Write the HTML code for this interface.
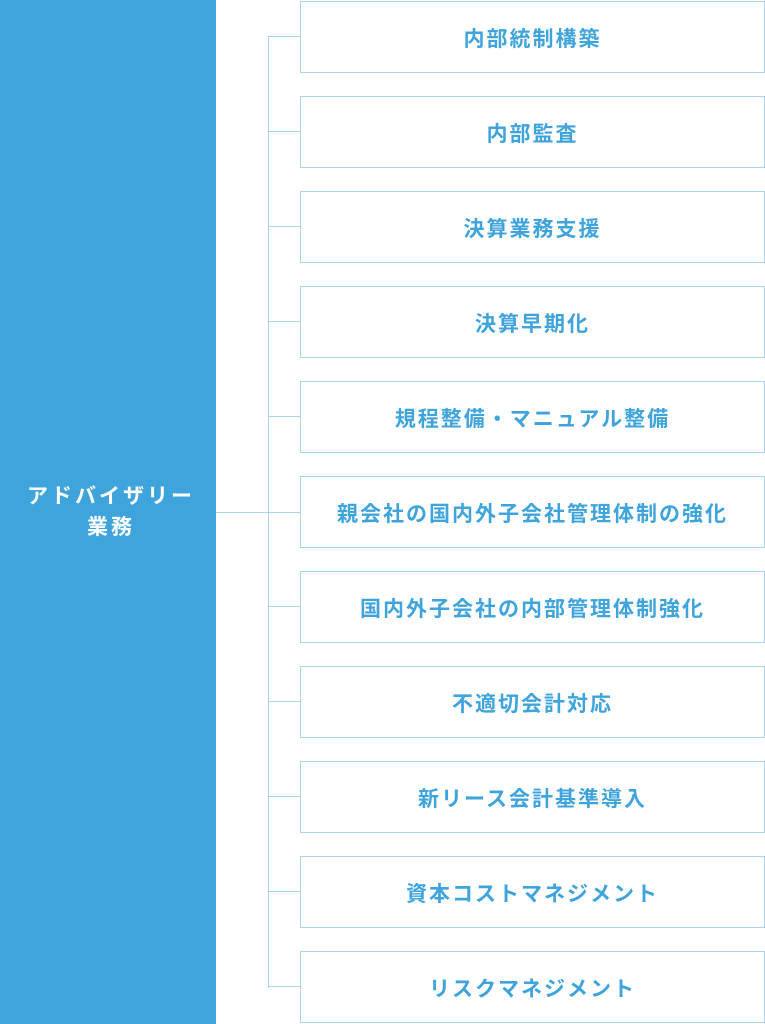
<!DOCTYPE html>
<html><head><meta charset="utf-8"><style>
body{margin:0;width:765px;height:1024px;position:relative;background:#fff;overflow:hidden;font-family:"Liberation Sans","Noto Sans CJK JP",sans-serif;}
.l{position:absolute;left:0;top:0;width:216px;height:1024px;background:#3fa3dc;}
.lt{position:absolute;left:3px;width:216px;top:481px;text-align:center;color:#fff;font-weight:bold;font-size:21px;line-height:31px;letter-spacing:3px;}
.b{position:absolute;left:300px;width:463px;height:70px;border:1px solid #a9d5f0;display:flex;align-items:center;justify-content:center;color:#3fa3dc;font-weight:bold;font-size:21px;letter-spacing:2px;padding-top:2px;box-sizing:content-box;}
.h{position:absolute;height:1px;background:#a9d5f0;}
.v{position:absolute;width:1px;background:#a9d5f0;}
</style></head><body>
<div class="l"></div>
<div class="lt">アドバイザリー<br>業務</div>
<div class="v" style="left:268px;top:36px;height:952px"></div>
<div class="h" style="left:216px;top:512px;width:84px"></div>
<div class="h" style="left:268px;top:36px;width:32px"></div>
<div class="h" style="left:268px;top:131px;width:32px"></div>
<div class="h" style="left:268px;top:226px;width:32px"></div>
<div class="h" style="left:268px;top:321px;width:32px"></div>
<div class="h" style="left:268px;top:416px;width:32px"></div>
<div class="h" style="left:268px;top:606px;width:32px"></div>
<div class="h" style="left:268px;top:701px;width:32px"></div>
<div class="h" style="left:268px;top:796px;width:32px"></div>
<div class="h" style="left:268px;top:891px;width:32px"></div>
<div class="h" style="left:268px;top:986px;width:32px"></div>
<div class="b" style="top:1px;height:68px">内部統制構築</div>
<div class="b" style="top:96px;height:68px">内部監査</div>
<div class="b" style="top:191px;height:68px">決算業務支援</div>
<div class="b" style="top:286px;height:68px">決算早期化</div>
<div class="b" style="top:381px;height:68px">規程整備・マニュアル整備</div>
<div class="b" style="top:476px;height:68px">親会社の国内外子会社管理体制の強化</div>
<div class="b" style="top:571px;height:68px">国内外子会社の内部管理体制強化</div>
<div class="b" style="top:666px;height:68px">不適切会計対応</div>
<div class="b" style="top:761px;height:68px">新リース会計基準導入</div>
<div class="b" style="top:856px;height:68px">資本コストマネジメント</div>
<div class="b" style="top:951px;height:68px">リスクマネジメント</div>
</body></html>
